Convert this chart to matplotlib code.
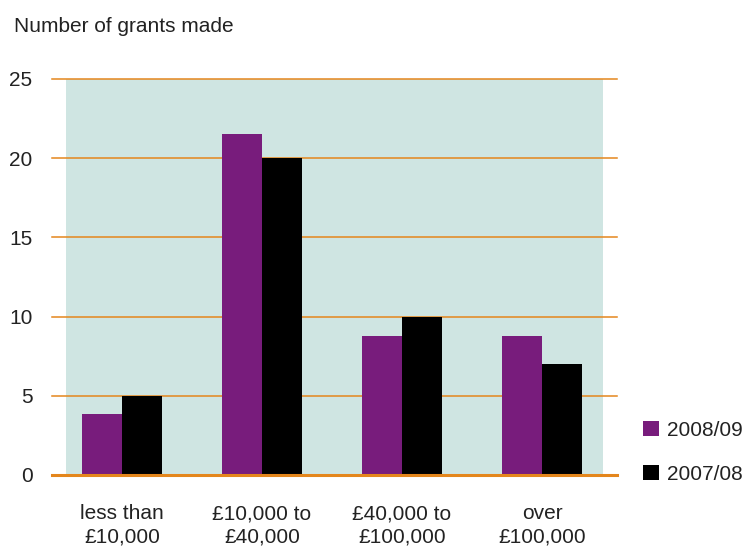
import matplotlib.pyplot as plt
from matplotlib.patches import Rectangle
import numpy as np

plt.rcParams['font.family'] = ['Liberation Sans', 'DejaVu Sans']

categories = ["less than\n£10,000", "£10,000 to\n£40,000", "£40,000 to\n£100,000", "over\n£100,000"]
grants_2008 = [3.85, 21.5, 8.8, 8.8]
grants_2007 = [5, 20, 10, 7]
yticks = [0, 5, 10, 15, 20, 25]

purple = "#781C7C"
orange = "#E4861C"
bg = "#CFE5E2"
txt = "#222222"

fig = plt.figure(figsize=(7.47, 5.47), dpi=100)
ax = fig.add_axes([52 / 747, 72 / 547, 565 / 747, 396 / 547])

x = np.arange(len(categories))
w = 40 / 140

ax.add_patch(Rectangle((-0.4, 0), 3.836, 25, facecolor=bg, edgecolor="none", zorder=0))
for v in yticks[1:]:
    ax.axhline(v, color=orange, lw=1.1, zorder=1, clip_on=False)

b1 = ax.bar(x - w / 2, grants_2008, w, color=purple, zorder=2, label="2008/09")
b2 = ax.bar(x + w / 2, grants_2007, w, color="black", zorder=2, label="2007/08")

ax.set_xlim(-0.5, 495 / 140)
ax.set_ylim(0, 25)
ax.set_yticks(yticks)
ax.set_xticks(x)
ax.set_xticklabels(categories, fontsize=15, color=txt, linespacing=1.3)
ax.tick_params(axis="y", length=0, pad=14, labelsize=15, labelcolor=txt)
ax.tick_params(axis="x", length=0, pad=21)
for s in ["top", "right", "left"]:
    ax.spines[s].set_visible(False)
ax.spines["bottom"].set_color(orange)
ax.spines["bottom"].set_linewidth(2.2)
ax.spines["bottom"].set_zorder(3)

fig.text(14 / 747, 1 - 27 / 547, "Number of grants made", fontsize=15, color=txt, va="center")

leg = fig.legend(handles=[b1, b2], loc="upper left", bbox_to_anchor=(643 / 747, 1 - 421 / 547),
                 frameon=False, fontsize=15, handlelength=0.75, handleheight=0.75,
                 handletextpad=0.4, labelspacing=1.2, borderaxespad=0, borderpad=0)
for t in leg.get_texts():
    t.set_color(txt)

fig.savefig("out.png", dpi=100)
